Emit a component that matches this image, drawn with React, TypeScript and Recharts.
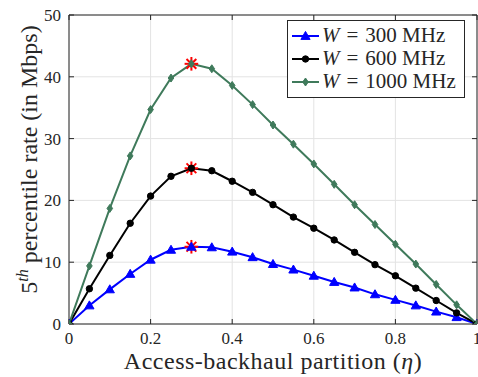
import React from "react";
import {
  ComposedChart,
  Line,
  Scatter,
  XAxis,
  YAxis,
  CartesianGrid,
  Legend,
} from "recharts";

const eta = [0, 0.05, 0.1, 0.15, 0.2, 0.25, 0.3, 0.35, 0.4, 0.45, 0.5, 0.55, 0.6, 0.65, 0.7, 0.75, 0.8, 0.85, 0.9, 0.95, 1];
const rate300 = [0, 3.0, 5.6, 8.1, 10.4, 12.0, 12.5, 12.4, 11.7, 10.8, 9.7, 8.8, 7.8, 6.8, 5.9, 4.8, 3.9, 3.0, 2.0, 1.1, 0];
const rate600 = [0, 5.7, 11.1, 16.3, 20.7, 23.9, 25.2, 24.8, 23.1, 21.3, 19.3, 17.3, 15.5, 13.6, 11.6, 9.6, 7.8, 5.8, 3.8, 1.8, 0];
const rate1000 = [0, 9.4, 18.7, 27.2, 34.7, 39.8, 42.1, 41.3, 38.6, 35.5, 32.2, 29.1, 25.9, 22.6, 19.3, 16.1, 12.9, 9.7, 6.4, 3.1, 0];

const peakEta = [0.3, 0.3, 0.3];
const peakRate = [12.5, 25.2, 42.1];

const xTicks = [0, 0.2, 0.4, 0.6, 0.8, 1];
const yTicks = [0, 10, 20, 30, 40, 50];

const legendLabels = ["300", "600", "1000"];

const BLUE = "#0000ff";
const BLACK = "#000000";
const GREEN = "#3f7a5b";
const RED = "#ff0000";
const AXIS = "#262626";
const FONT = "Liberation Serif, DejaVu Serif, serif";

const data = eta.map((x, i) => ({
  x,
  w300: rate300[i],
  w600: rate600[i],
  w1000: rate1000[i],
}));
const peaks = peakEta.map((x, i) => ({ x, y: peakRate[i] }));

const TriangleShape = ({ cx, cy, color }: any) => (
  <path
    d={`M${cx},${cy - 4.6} L${cx + 4.6},${cy + 3.4} L${cx - 4.6},${cy + 3.4} Z`}
    fill={color}
    stroke={color}
    strokeWidth={1}
  />
);
const CircleShape = ({ cx, cy, color }: any) => (
  <circle cx={cx} cy={cy} r={3.2} fill={color} stroke={color} strokeWidth={1} />
);
const DiamondShape = ({ cx, cy, color }: any) => (
  <path
    d={`M${cx},${cy - 4} L${cx + 2.8},${cy} L${cx},${cy + 4} L${cx - 2.8},${cy} Z`}
    fill={color}
    stroke={color}
    strokeWidth={1}
  />
);

const triDot = (p: any) => <TriangleShape key={`t${p.index}`} cx={p.cx} cy={p.cy} color={BLUE} />;
const cirDot = (p: any) => <CircleShape key={`c${p.index}`} cx={p.cx} cy={p.cy} color={BLACK} />;
const diaDot = (p: any) => <DiamondShape key={`d${p.index}`} cx={p.cx} cy={p.cy} color={GREEN} />;

const Asterisk = (p: any) => {
  const { cx, cy } = p;
  const r = 6.8;
  const d = r * 0.72;
  return (
    <g stroke={RED} strokeWidth={2}>
      <line x1={cx - r} y1={cy} x2={cx + r} y2={cy} />
      <line x1={cx} y1={cy - r} x2={cx} y2={cy + r} />
      <line x1={cx - d} y1={cy - d} x2={cx + d} y2={cy + d} />
      <line x1={cx - d} y1={cy + d} x2={cx + d} y2={cy - d} />
    </g>
  );
};

const EmptyTick = () => <g />;

const YLabel = (props: any) => {
  const vb = props.viewBox || { x: 0, y: 15, width: 69, height: 309 };
  const x = vb.x + 37;
  const y = vb.y + vb.height / 2 - 10;
  return (
    <text
      x={x}
      y={y}
      transform={`rotate(-90, ${x}, ${y})`}
      textAnchor="middle"
      style={{ fontFamily: FONT, fontSize: 24 }}
      fill={AXIS}
    >
      <tspan>5</tspan>
      <tspan style={{ fontStyle: "italic", fontSize: 16 }} dy={-9}>th</tspan>
      <tspan dy={9}> percentile rate (in Mbps)</tspan>
    </text>
  );
};

const XLabel = (props: any) => {
  const vb = props.viewBox || { x: 69, y: 324, width: 408, height: 53 };
  const x = vb.x + vb.width / 2;
  const y = vb.y + 45;
  return (
    <text x={x} y={y} textAnchor="middle" style={{ fontFamily: FONT, fontSize: 24, letterSpacing: 0.5 }} fill={AXIS}>
      Access-backhaul partition (<tspan style={{ fontStyle: "italic" }}>η</tspan>)
    </text>
  );
};

const markerFor = (i: number, cx: number, cy: number) => {
  if (i === 0) return <TriangleShape cx={cx} cy={cy} color={BLUE} />;
  if (i === 1) return <CircleShape cx={cx} cy={cy} color={BLACK} />;
  return <DiamondShape cx={cx} cy={cy} color={GREEN} />;
};
const colors = [BLUE, BLACK, GREEN];

const LegendBox = () => (
  <div
    style={{
      width: 176,
      height: 73,
      border: `1px solid ${AXIS}`,
      background: "#fff",
      boxSizing: "content-box",
      paddingTop: 3,
      fontFamily: FONT,
      fontSize: 21,
      color: AXIS,
    }}
  >
    {legendLabels.map((lab, i) => (
      <div key={lab} style={{ height: 23, display: "flex", alignItems: "center", whiteSpace: "nowrap", lineHeight: "23px" }}>
        <svg width={34} height={23} style={{ flex: "none" }}>
          <line x1={4} y1={12} x2={31} y2={12} stroke={colors[i]} strokeWidth={2} />
          {markerFor(i, 17.5, 12)}
        </svg>
        <span>
          <i>W</i>
          <span style={{ margin: "0 7px" }}>=</span>
          {lab} MHz
        </span>
      </div>
    ))}
  </div>
);

const tickStyle = { fill: AXIS, fontSize: 17, fontFamily: FONT };

export default function App() {
  return (
    <div style={{ position: "absolute", left: 0, top: 0, width: 478, height: 377, background: "#fff" }}>
      <ComposedChart width={478} height={377} data={data} margin={{ top: 0, right: 0, bottom: 0, left: 0 }}>
        <CartesianGrid xAxisId="main" yAxisId="main" stroke="#e3e3e3" strokeWidth={1} />
        <XAxis
          xAxisId="main"
          dataKey="x"
          type="number"
          domain={[0, 1]}
          allowDataOverflow
          ticks={xTicks}
          interval={0}
          orientation="bottom"
          height={53}
          tickSize={-5}
          tickMargin={13}
          stroke={AXIS}
          tick={tickStyle}
          tickFormatter={(v: number) => String(v)}
          label={<XLabel />}
        />
        <XAxis
          xAxisId="top"
          dataKey="x"
          type="number"
          domain={[0, 1]}
          allowDataOverflow
          ticks={xTicks}
          interval={0}
          orientation="top"
          height={15}
          tickSize={-5}
          stroke={AXIS}
          tick={<EmptyTick />}
        />
        <YAxis
          yAxisId="main"
          type="number"
          domain={[0, 50]}
          allowDataOverflow
          ticks={yTicks}
          interval={0}
          orientation="left"
          width={69}
          tickSize={-5}
          tickMargin={13}
          stroke={AXIS}
          tick={tickStyle}
          label={<YLabel />}
        />
        <YAxis
          yAxisId="right"
          dataKey="w1000"
          type="number"
          domain={[0, 50]}
          allowDataOverflow
          ticks={yTicks}
          interval={0}
          orientation="right"
          width={1}
          tickSize={-5}
          stroke={AXIS}
          tick={<EmptyTick />}
        />
        <Line xAxisId="main" yAxisId="main" type="linear" dataKey="w300" stroke={BLUE} strokeWidth={2} dot={triDot} isAnimationActive={false} />
        <Line xAxisId="main" yAxisId="main" type="linear" dataKey="w600" stroke={BLACK} strokeWidth={2} dot={cirDot} isAnimationActive={false} />
        <Line xAxisId="main" yAxisId="main" type="linear" dataKey="w1000" stroke={GREEN} strokeWidth={2} dot={diaDot} isAnimationActive={false} />
        <Scatter xAxisId="main" yAxisId="main" data={peaks} dataKey="y" shape={Asterisk} isAnimationActive={false} />
        <Legend
          layout="horizontal"
          align="center"
          verticalAlign="middle"
          content={<LegendBox />}
          wrapperStyle={{ position: "absolute", left: 287, top: 20, width: 178, height: 77 }}
        />
      </ComposedChart>
    </div>
  );
}
